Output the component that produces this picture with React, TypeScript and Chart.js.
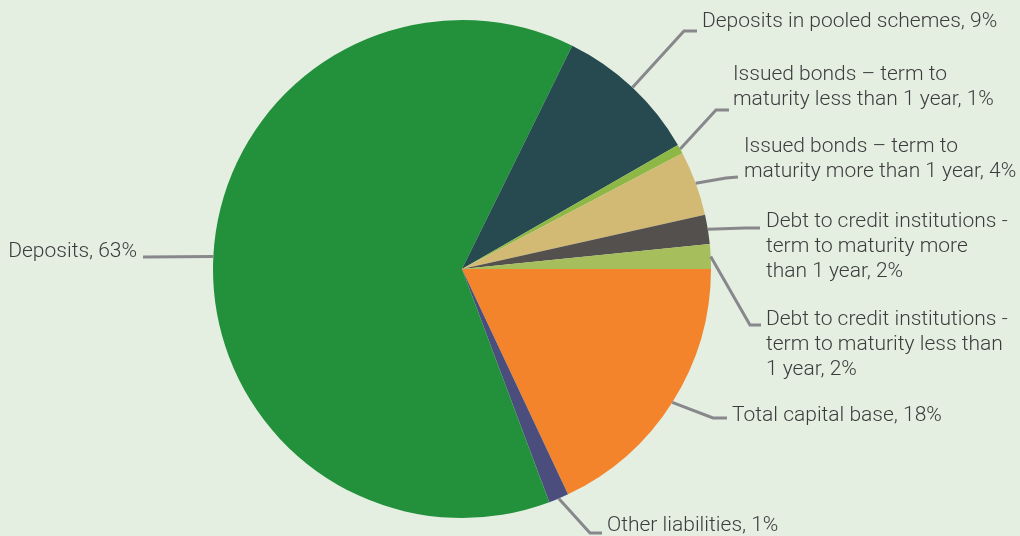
import React, { useEffect, useRef } from "react";
import { Chart, registerables } from "chart.js";

Chart.register(...registerables);

// Categories (line breaks mark how the labels wrap)
const categories: string[] = [
  "Total capital base",
  "Other liabilities",
  "Deposits",
  "Deposits in pooled schemes",
  "Issued bonds – term to\nmaturity less than 1 year",
  "Issued bonds – term to\nmaturity more than 1 year",
  "Debt to credit institutions -\nterm to maturity more\nthan 1 year",
  "Debt to credit institutions -\nterm to maturity less than\n1 year",
];

// Share of total, per cent
const shares: number[] = [18.0, 1.3, 63.0, 9.4, 0.6, 4.2, 1.9, 1.6];

const sliceColors: string[] = [
  "#F4842B",
  "#4B4E7C",
  "#23913B",
  "#264A50",
  "#8DB846",
  "#D3BA74",
  "#54504E",
  "#A6BE5C",
];

// Label placement: elbow of leader line, end of leader line, text anchor
type LabelPos = { elbow: [number, number]; end: [number, number]; tx: number; ty: number; align: "left" | "right" };
const labelLayout: LabelPos[] = [
  { elbow: [713, 418], end: [727, 418], tx: 732, ty: 416, align: "left" },
  { elbow: [590, 533], end: [602, 533], tx: 607, ty: 526, align: "left" },
  { elbow: [143, 257], end: [143, 257], tx: 137, ty: 252, align: "right" },
  { elbow: [684, 31], end: [697, 31], tx: 702, ty: 22, align: "left" },
  { elbow: [716, 110], end: [729, 110], tx: 733, ty: 75, align: "left" },
  { elbow: [726, 178], end: [738, 177], tx: 744, ty: 147, align: "left" },
  { elbow: [745, 228], end: [760, 228], tx: 766, ty: 222, align: "left" },
  { elbow: [750, 325], end: [761, 325], tx: 766, ty: 320, align: "left" },
];

const BG = "#E4EFE2";
const FONT = '300 21px Roboto, "Open Sans", sans-serif';

const labelPlugin = {
  id: "leaderLabels",
  afterDraw(chart: any) {
    const ctx = chart.ctx as CanvasRenderingContext2D;
    const meta = chart.getDatasetMeta(0);
    const total = shares.reduce((a, b) => a + b, 0);
    ctx.save();
    meta.data.forEach((arc: any, i: number) => {
      const p = arc.getProps(["x", "y", "startAngle", "endAngle", "outerRadius"], true);
      const mid = (p.startAngle + p.endAngle) / 2;
      const sx = p.x + Math.cos(mid) * p.outerRadius;
      const sy = p.y + Math.sin(mid) * p.outerRadius;
      const lay = labelLayout[i];
      ctx.beginPath();
      ctx.moveTo(sx, sy);
      ctx.lineTo(lay.elbow[0], lay.elbow[1]);
      ctx.lineTo(lay.end[0], lay.end[1]);
      ctx.lineWidth = 3;
      ctx.strokeStyle = "#88888C";
      ctx.lineCap = "butt";
      ctx.lineJoin = "miter";
      ctx.stroke();

      const pct = Math.round((shares[i] / total) * 100 + 1e-9);
      const lines = categories[i].split("\n");
      lines[lines.length - 1] = `${lines[lines.length - 1]}, ${pct}%`;
      ctx.font = FONT;
      ctx.fillStyle = "#3C3C3C";
      ctx.textAlign = lay.align;
      ctx.textBaseline = "middle";
      lines.forEach((ln, k) => {
        ctx.fillText(ln, lay.tx, lay.ty + k * 25);
      });
    });
    ctx.restore();
  },
};

export default function App() {
  const ref = useRef<HTMLCanvasElement | null>(null);
  useEffect(() => {
    if (!ref.current) return;
    const chart = new Chart(ref.current, {
      type: "pie",
      data: {
        labels: categories.map((c) => c.replace(/\n/g, " ")),
        datasets: [
          {
            data: shares,
            backgroundColor: sliceColors,
            borderWidth: 0,
          },
        ],
      },
      options: {
        responsive: false,
        animation: false,
        devicePixelRatio: 1,
        rotation: 90,
        layout: { padding: { top: 20, bottom: 18, left: 213, right: 309 } },
        plugins: {
          legend: { display: false },
          tooltip: { enabled: false },
        },
      },
      plugins: [labelPlugin],
    });
    return () => chart.destroy();
  }, []);
  return (
    <div style={{ position: "fixed", left: 0, top: 0, width: 1020, height: 536, background: BG }}>
      <canvas ref={ref} width={1020} height={536} style={{ display: "block" }} />
    </div>
  );
}
